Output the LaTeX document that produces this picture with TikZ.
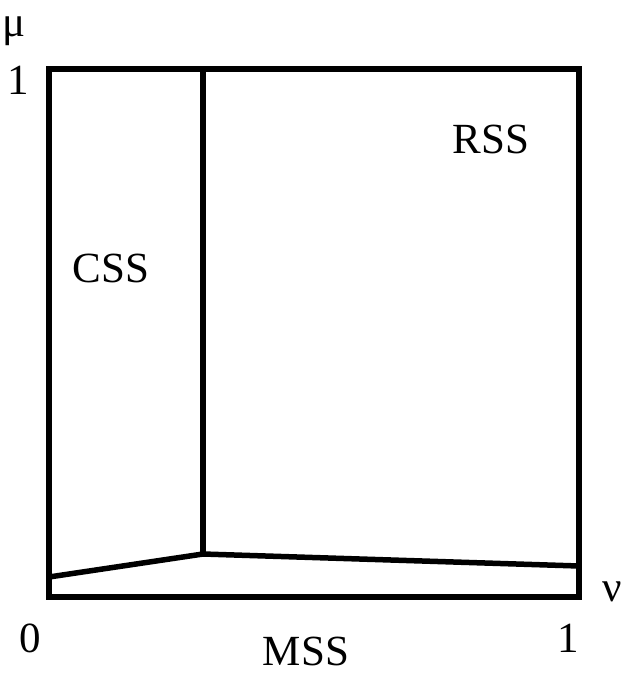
\documentclass[tikz,border=0pt]{standalone}
\usepackage{fontspec}
\setmainfont{Liberation Serif}
\tikzset{
    phaseline/.style={line width=5.5pt, line join=miter},
    axislabel/.style={inner sep=0pt, font=\fontsize{43}{43}\selectfont}
}
\begin{document}
\begin{tikzpicture}[x=1pt, y=-1pt]
        \useasboundingbox (0,0) rectangle (624,673);
        \coordinate (lb) at (49,597);
        \coordinate (rt) at (579,69);
        \coordinate (top) at (203,69);
        \coordinate (mid) at (203,554);
        \coordinate (left) at (49,577);
        \coordinate (right) at (579,566);
        \draw[phaseline] (lb) rectangle (rt);
        \draw[phaseline] (top) -- (mid);
        \draw[phaseline] (left) -- (mid) -- (right);
        \node[axislabel] (mu) at (14,31) {μ};
        \node[axislabel] (mutop) at (18,80) {1};
        \node[axislabel] (zero) at (30,638) {0};
        \node[axislabel] (nuend) at (568,638) {1};
        \node[axislabel] (nu) at (612,592) {ν};
        \node[axislabel] (mss) at (306,651) {MSS};
        \node[axislabel] (css) at (111,268) {CSS};
        \node[axislabel] (rss) at (491,139) {RSS};
    \end{tikzpicture}
\end{document}
